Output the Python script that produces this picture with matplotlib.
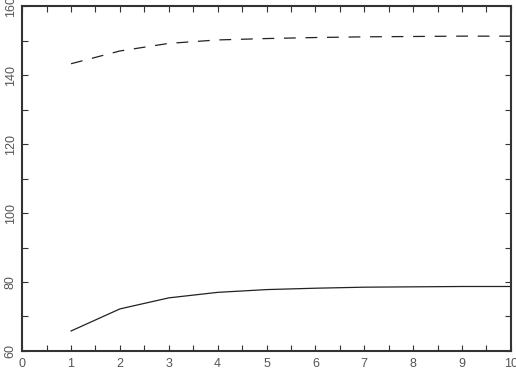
import matplotlib as mpl
mpl.use('Agg')
import matplotlib.pyplot as plt
import numpy as np

mpl.rcParams['font.family'] = ['Liberation Sans', 'DejaVu Sans']
mpl.rcParams['lines.scale_dashes'] = False

x = [1, 2, 3, 4, 5, 6, 7, 8, 9, 10]
solid = [65.8, 72.2, 75.4, 77.0, 77.8, 78.2, 78.5, 78.6, 78.7, 78.7]
dashed = [143.3, 147.0, 149.2, 150.2, 150.6, 150.9, 151.1, 151.2, 151.3, 151.3]

xticks = np.arange(0, 11, 1)
yticks = np.arange(60, 161, 20)

fig = plt.figure(figsize=(5.16, 3.84), dpi=100)
ax = fig.add_axes([0.043, 0.086, 0.947, 0.898])

ax.plot(x, solid, color='#222222', lw=0.9)
ax.plot(x, dashed, color='#222222', lw=0.9, dashes=(8.5, 7))

ax.set_xlim(0, 10)
ax.set_ylim(60, 160)
ax.set_xticks(xticks)
ax.set_xticks(np.arange(0, 10.01, 0.5), minor=True)
ax.set_yticks(yticks)
ax.set_yticks(np.arange(60, 161, 10), minor=True)
ax.set_yticklabels([str(v) for v in yticks], rotation=90, va='center')

ax.tick_params(which='both', direction='in', top=True, right=True,
               length=4, width=0.8, color='#333333',
               labelsize=9, labelcolor='#555555')
ax.tick_params(axis='x', pad=5)
ax.tick_params(axis='y', pad=4)
for s in ax.spines.values():
    s.set_linewidth(1.5)
    s.set_color('#333333')

fig.savefig('out.png', dpi=100)
